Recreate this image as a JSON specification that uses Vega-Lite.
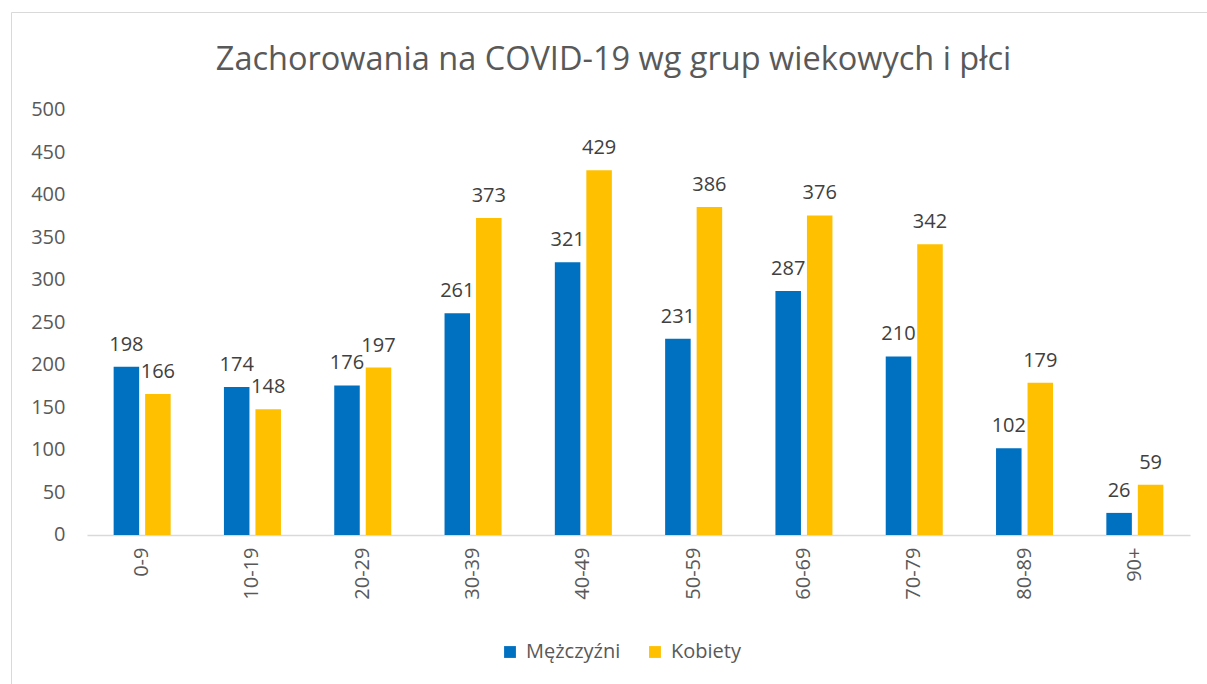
{
  "$schema": "https://vega.github.io/schema/vega-lite/v6.json",
  "autosize": {"type": "none"},
  "padding": {"left": 11, "top": 12, "right": 0, "bottom": 0},
  "width": 1197,
  "height": 673,
  "background": "white",
  "title": {
    "text": "Zachorowania na COVID-19 wg grup wiekowych i płci",
    "font": "Open Sans",
    "fontSize": 32.5,
    "fontWeight": "normal",
    "color": "#595959",
    "anchor": "middle",
    "frame": "group",
    "baseline": "middle",
    "offset": -80,
    "dx": 4
  },
  "config": {
    "view": {"stroke": "#d9d9d9", "strokeWidth": 1},
    "font": "Open Sans"
  },
  "data": {
    "values": [
      {"grupa": "0-9", "plec": "Mężczyźni", "liczba": 198},
      {"grupa": "0-9", "plec": "Kobiety", "liczba": 166},
      {"grupa": "10-19", "plec": "Mężczyźni", "liczba": 174},
      {"grupa": "10-19", "plec": "Kobiety", "liczba": 148},
      {"grupa": "20-29", "plec": "Mężczyźni", "liczba": 176},
      {"grupa": "20-29", "plec": "Kobiety", "liczba": 197},
      {"grupa": "30-39", "plec": "Mężczyźni", "liczba": 261},
      {"grupa": "30-39", "plec": "Kobiety", "liczba": 373},
      {"grupa": "40-49", "plec": "Mężczyźni", "liczba": 321},
      {"grupa": "40-49", "plec": "Kobiety", "liczba": 429},
      {"grupa": "50-59", "plec": "Mężczyźni", "liczba": 231},
      {"grupa": "50-59", "plec": "Kobiety", "liczba": 386},
      {"grupa": "60-69", "plec": "Mężczyźni", "liczba": 287},
      {"grupa": "60-69", "plec": "Kobiety", "liczba": 376},
      {"grupa": "70-79", "plec": "Mężczyźni", "liczba": 210},
      {"grupa": "70-79", "plec": "Kobiety", "liczba": 342},
      {"grupa": "80-89", "plec": "Mężczyźni", "liczba": 102},
      {"grupa": "80-89", "plec": "Kobiety", "liczba": 179},
      {"grupa": "90+", "plec": "Mężczyźni", "liczba": 26},
      {"grupa": "90+", "plec": "Kobiety", "liczba": 59}
    ]
  },
  "encoding": {
    "x": {
      "field": "grupa",
      "type": "nominal",
      "sort": null,
      "scale": {"range": [76, 1179], "paddingInner": 0.483, "paddingOuter": 0.2415},
      "axis": {
        "title": null,
        "orient": "bottom",
        "offset": -150,
        "labelAngle": -90,
        "labelFontSize": 20,
        "labelColor": "#595959",
        "labelFont": "Open Sans",
        "labelPadding": 12,
        "ticks": false,
        "domainColor": "#d9d9d9",
        "domainWidth": 1.5,
        "grid": false
      }
    },
    "xOffset": {
      "field": "plec",
      "type": "nominal",
      "sort": ["Mężczyźni", "Kobiety"],
      "scale": {"paddingInner": 0.19, "paddingOuter": 0}
    },
    "y": {
      "field": "liczba",
      "type": "quantitative",
      "scale": {"domain": [-176.47, 615.29], "nice": false, "zero": false},
      "axis": {
        "title": null,
        "values": [0, 50, 100, 150, 200, 250, 300, 350, 400, 450, 500],
        "offset": -56,
        "labelPadding": 2,
        "ticks": false,
        "domain": false,
        "grid": false,
        "labelFontSize": 20,
        "labelColor": "#595959",
        "labelFont": "Open Sans"
      }
    }
  },
  "layer": [
    {
      "mark": {"type": "bar"},
      "encoding": {
        "y2": {"datum": 0},
        "color": {
          "field": "plec",
          "type": "nominal",
          "sort": ["Mężczyźni", "Kobiety"],
          "scale": {"domain": ["Mężczyźni", "Kobiety"], "range": ["#0070C0", "#FFC000"]},
          "legend": {
            "title": null,
            "orient": "none",
            "direction": "horizontal",
            "legendX": 489,
            "legendY": 630,
            "symbolType": "square",
            "symbolSize": 140,
            "symbolStrokeWidth": 0,
            "labelFontSize": 20,
            "labelColor": "#595959",
            "labelFont": "Open Sans",
            "labelOffset": 6,
            "columnPadding": 24
          }
        }
      }
    },
    {
      "mark": {"type": "text", "baseline": "alphabetic", "dy": -16, "fontSize": 20, "color": "#404040", "font": "Open Sans"},
      "encoding": {
        "text": {"field": "liczba", "type": "quantitative"}
      }
    }
  ]
}
